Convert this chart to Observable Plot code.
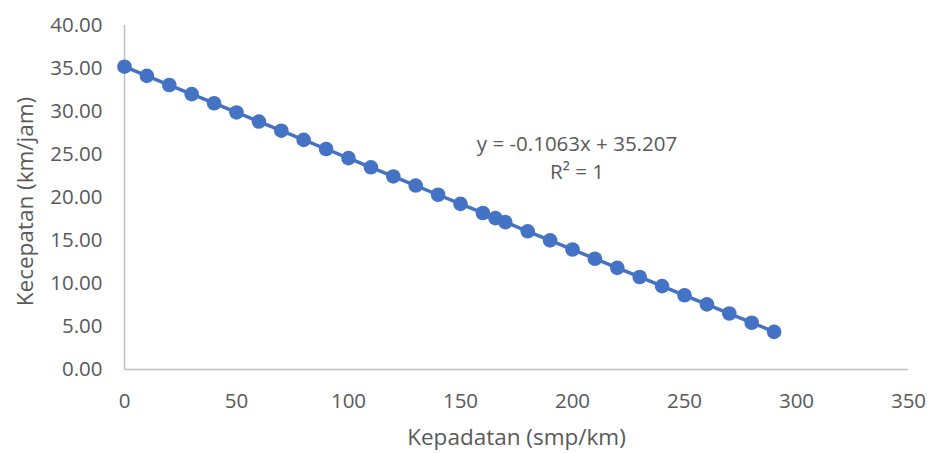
<!DOCTYPE html>
<html>
<head>
<meta charset="utf-8">
<script src="https://cdn.jsdelivr.net/npm/d3@7"></script>
<script src="https://cdn.jsdelivr.net/npm/@observablehq/plot@0.6"></script>
<style>
  html, body { margin: 0; padding: 0; background: #fff; }
  #chart svg { display: block; }
</style>
</head>
<body>
<div id="chart"></div>
<script>
// Kepadatan (density, smp/km)
const kepadatan = [0, 10, 20, 30, 40, 50, 60, 70, 80, 90, 100, 110, 120, 130, 140, 150,
  160, 165.6, 170, 180, 190, 200, 210, 220, 230, 240, 250, 260, 270, 280, 290];
// Kecepatan (speed, km/jam)
const kecepatan = [35.21, 34.14, 33.08, 32.02, 30.96, 29.89, 28.83, 27.77, 26.70, 25.64,
  24.58, 23.51, 22.45, 21.39, 20.32, 19.26, 18.20, 17.60, 17.14, 16.07, 15.01, 13.95,
  12.88, 11.82, 10.76, 9.70, 8.63, 7.57, 6.51, 5.44, 4.38];
const xTicks = [0, 50, 100, 150, 200, 250, 300, 350];
const yTicks = [0, 5, 10, 15, 20, 25, 30, 35, 40];
const trendText = ["y = -0.1063x + 35.207", "R\u00b2 = 1"];
const xTitle = "Kepadatan (smp/km)";
const yTitle = "Kecepatan (km/jam)";

const data = kepadatan.map((k, i) => ({k, v: kecepatan[i]}));

const blue = "#4472C4";
const axisGray = "#BFBFBF";
const textGray = "#595959";
const font = "Open Sans, Lato, sans-serif";

const chart = Plot.plot({
  width: 930,
  height: 453,
  marginLeft: 124,
  marginRight: 22,
  marginTop: 25,
  marginBottom: 84,
  style: {fontFamily: font, color: textGray, background: "#fff"},
  x: {domain: [0, 350]},
  y: {domain: [0, 40]},
  marks: [
    Plot.axisX({ticks: xTicks, tickSize: 0, tickPadding: 24, fontSize: 20.5, label: null, fill: textGray}),
    Plot.axisY({ticks: yTicks, tickSize: 0, tickPadding: 22, fontSize: 20.5, label: null, fill: textGray,
      tickFormat: d => d.toFixed(2)}),
    Plot.ruleY([0], {stroke: axisGray, strokeWidth: 1.5}),
    Plot.ruleX([0], {stroke: axisGray, strokeWidth: 1.5}),
    Plot.line(data, {x: "k", y: "v", stroke: blue, strokeWidth: 3.5}),
    Plot.dot(data, {x: "k", y: "v", r: 7.3, fill: blue, stroke: null}),
    Plot.text([trendText[0]], {x: 202, y: 26.2, fontSize: 20.5, fill: textGray}),
    Plot.text([trendText[1]], {x: 202, y: 22.9, fontSize: 20.5, fill: textGray}),
    Plot.text([xTitle], {frameAnchor: "bottom", textAnchor: "middle", lineAnchor: "middle", dy: 68, fontSize: 22.5, fill: textGray}),
    Plot.text([yTitle], {frameAnchor: "left", textAnchor: "middle", lineAnchor: "middle", dx: -99, dy: 4, rotate: -90, fontSize: 22.5, fill: textGray})
  ]
});

document.getElementById("chart").append(chart);
</script>
</body>
</html>
